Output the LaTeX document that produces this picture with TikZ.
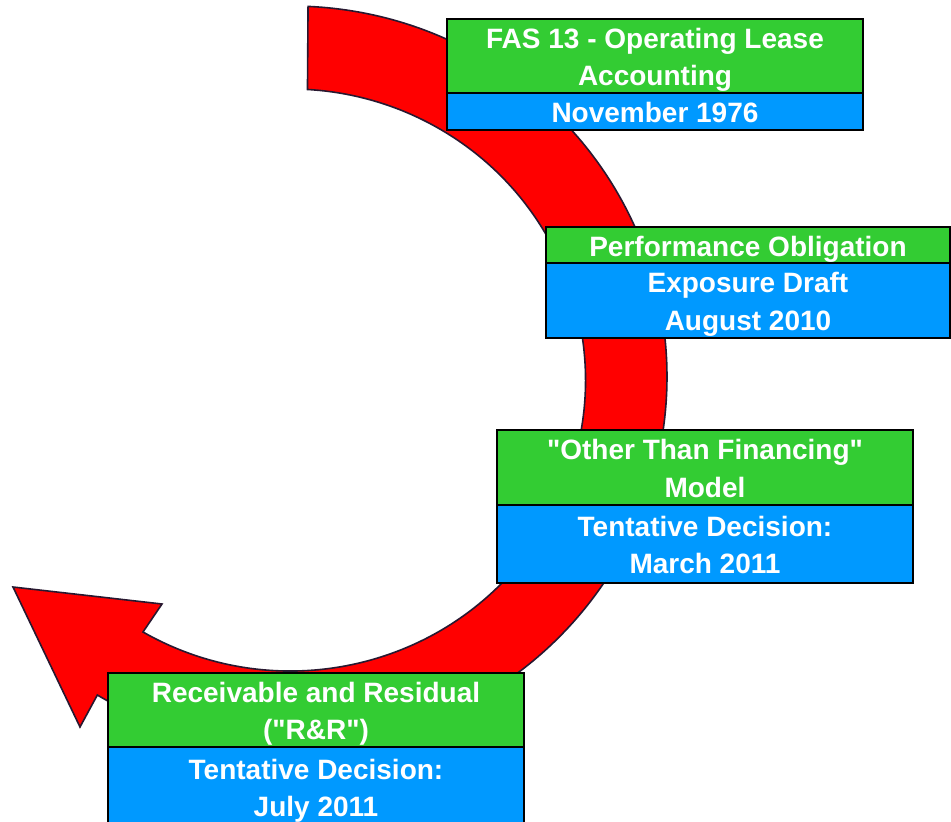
\documentclass[tikz,border=0pt]{standalone}
\usepackage{fontspec}
% a family without the TeX quote mapping, so " stays a straight quote
\newfontfamily\boxfont{Liberation Sans}
\definecolor{gbgreen}{RGB}{51,204,51}
\definecolor{gbblue}{RGB}{0,153,255}
\definecolor{arrowline}{RGB}{40,24,48}
% line strut: keeps every text line the same height inside the boxes
\newcommand\tstrut{\rule[-6.8pt]{0pt}{36pt}}
\begin{document}
\begin{tikzpicture}[x=1pt,y=-1pt,
  boxbase/.style={text=white, font=\boxfont\fontsize{28}{37.5}\selectfont\bfseries,
    align=center, inner sep=0pt, outer sep=0pt, draw=black, line width=2.5pt,
    anchor=north west},
  greenbox/.style={boxbase, fill=gbgreen},
  bluebox/.style={boxbase, fill=gbblue},
  ringarrow/.style={fill=red, draw=arrowline, line width=1.6pt, line join=miter}
]
\useasboundingbox (0,0) rectangle (951,822);

% circular arrow running clockwise from the top to the lower left
\path[ringarrow] (291,377) ++(-87.4:376 and 371)
  arc[start angle=-87.4, end angle=121, x radius=376, y radius=371]
  -- (80,727) -- (13,587) -- (162,604) -- (143,632)
  arc[start angle=120, end angle=-86.7, x radius=295, y radius=291]
  -- cycle;

% milestone 1
\node[greenbox, minimum width=416pt, minimum height=74pt] (fasTitle) at (447,19)
  {\tstrut FAS 13 - Operating Lease\\\tstrut Accounting};
\node[bluebox, minimum width=416pt, minimum height=37pt] (fasDate) at (447,93)
  {\tstrut November 1976};

% milestone 2
\node[greenbox, minimum width=404pt, minimum height=36pt] (poTitle) at (546,227)
  {\tstrut Performance Obligation};
\node[bluebox, minimum width=404pt, minimum height=75pt] (poDate) at (546,263)
  {\tstrut Exposure Draft\\\tstrut August 2010};

% milestone 3
\node[greenbox, minimum width=416pt, minimum height=75pt] (otfTitle) at (497,430)
  {\tstrut "Other Than Financing"\\\tstrut Model};
\node[bluebox, minimum width=416pt, minimum height=78pt] (otfDate) at (497,505)
  {\tstrut Tentative Decision:\\\tstrut March 2011};

% milestone 4
\node[greenbox, minimum width=416pt, minimum height=74pt] (rrTitle) at (108,673)
  {\tstrut Receivable and Residual\\\tstrut ("R\&R")};
\node[bluebox, minimum width=416pt, minimum height=80pt] (rrDate) at (108,747)
  {\tstrut Tentative Decision:\\\tstrut July 2011};
\end{tikzpicture}
\end{document}
